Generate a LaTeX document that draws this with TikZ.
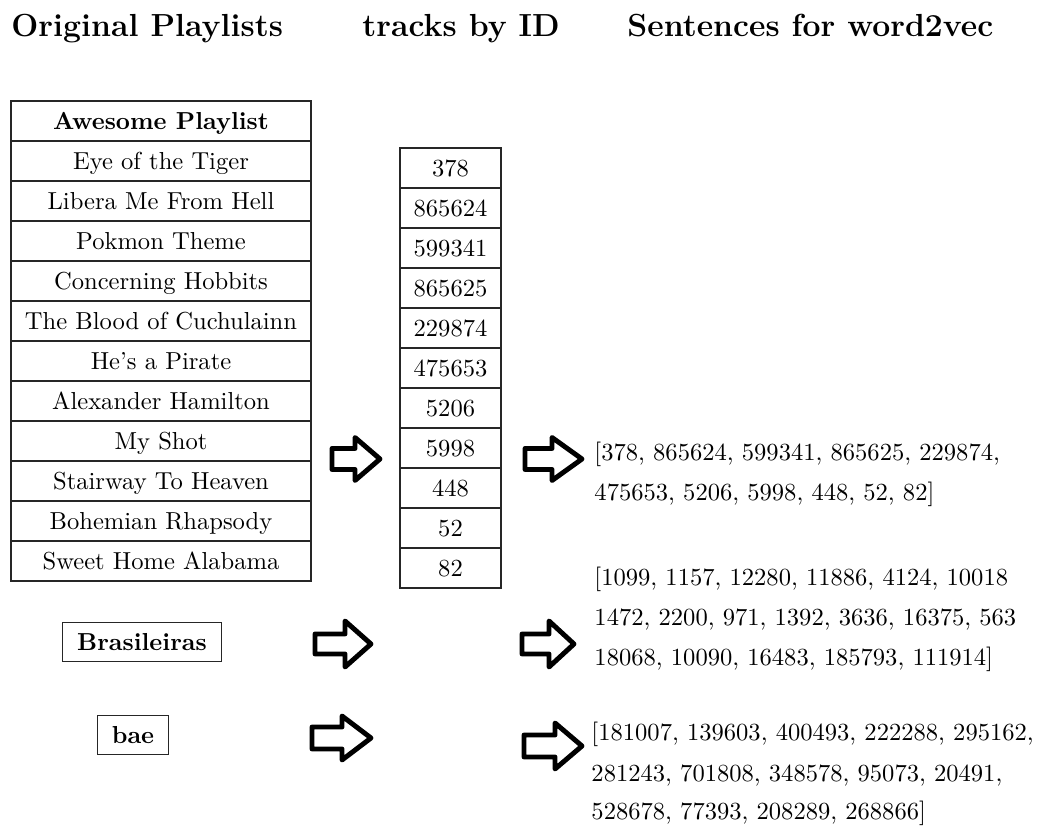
\documentclass[tikz,border=0pt]{standalone}
\newcommand\myblockarrow[6]{% x0 xh x1 yc shaft-half head-half (outer extents, px)
  \draw[barrow] ({#1+2},{#4-#5+2}) -- ({#2+2},{#4-#5+2}) -- ({#2+2},{#4-#6+2})
    -- ({#3-3},{#4}) -- ({#2+2},{#4+#6-2}) -- ({#2+2},{#4+#5-2})
    -- ({#1+2},{#4+#5-2}) -- cycle;}
\begin{document}
\begin{tikzpicture}[x=0.407pt,y=-0.407pt,
  cell/.style={draw=black!85, line width=0.45pt, inner sep=0pt,
    text height=9.4pt, text depth=2.4pt, align=center},
  pcell/.style={cell, minimum width=122.1pt, minimum height=16.28pt},
  icell/.style={cell, minimum width=41.1pt, minimum height=16.28pt},
  tagbox/.style={draw=black!85, line width=0.45pt, inner ysep=0pt, inner xsep=5.9pt,
    minimum height=16.2pt, text height=9.4pt, text depth=2.4pt, font=\bfseries},
  header/.style={anchor=base west, inner sep=0pt, font=\fontsize{13}{15}\selectfont\bfseries},
  sent/.style={anchor=base west, inner sep=0pt},
  barrow/.style={draw=black, line width=2pt, line join=round, fill=white}]
\useasboundingbox (0,0) rectangle (1037,826);

% headers
\node[header] (h1) at (11,37) {Original Playlists};
\node[header] (h2) at (362,37) {tracks by ID};
\node[header] (h3) at (627,37) {Sentences for word2vec};

% playlist table
\node[pcell] (p0)  at (161,121) {\textbf{Awesome Playlist}};
\node[pcell] (p1)  at (161,161) {Eye of the Tiger};
\node[pcell] (p2)  at (161,201) {Libera Me From Hell};
\node[pcell] (p3)  at (161,241) {Pokmon Theme};
\node[pcell] (p4)  at (161,281) {Concerning Hobbits};
\node[pcell] (p5)  at (161,321) {The Blood of Cuchulainn};
\node[pcell] (p6)  at (161,361) {He’s a Pirate};
\node[pcell] (p7)  at (161,401) {Alexander Hamilton};
\node[pcell] (p8)  at (161,441) {My Shot};
\node[pcell] (p9)  at (161,481) {Stairway To Heaven};
\node[pcell] (p10) at (161,521) {Bohemian Rhapsody};
\node[pcell] (p11) at (161,561) {Sweet Home Alabama};

% id column
\node[icell] (i1)  at (450.5,168) {378};
\node[icell] (i2)  at (450.5,208) {865624};
\node[icell] (i3)  at (450.5,248) {599341};
\node[icell] (i4)  at (450.5,288) {865625};
\node[icell] (i5)  at (450.5,328) {229874};
\node[icell] (i6)  at (450.5,368) {475653};
\node[icell] (i7)  at (450.5,408) {5206};
\node[icell] (i8)  at (450.5,448) {5998};
\node[icell] (i9)  at (450.5,488) {448};
\node[icell] (i10) at (450.5,528) {52};
\node[icell] (i11) at (450.5,568) {82};

% other playlists
\node[tagbox] (bra) at (142,642) {Brasileiras};
\node[tagbox] (bae) at (133,735) {bae};

% block arrows
\myblockarrow{330}{353}{383}{459}{12.5}{23.5}
\myblockarrow{523}{550}{585}{459}{12.5}{23.5}
\myblockarrow{313}{343}{374}{644}{12}{25}
\myblockarrow{520}{547}{577}{644}{12}{25}
\myblockarrow{310}{340}{374}{738}{13}{24}
\myblockarrow{522}{553}{585}{746}{13}{25}

% sentences
\node[sent] (s1a) at (594,461) {[378, 865624, 599341, 865625, 229874,};
\node[sent] (s1b) at (594,501) {475653, 5206, 5998, 448, 52, 82]};
\node[sent] (s2a) at (594,586) {[1099, 1157, 12280, 11886, 4124, 10018};
\node[sent] (s2b) at (594,626) {1472, 2200, 971, 1392, 3636, 16375, 563};
\node[sent] (s2c) at (594,666) {18068, 10090, 16483, 185793, 111914]};
\node[sent] (s3a) at (591,741) {[181007, 139603, 400493, 222288, 295162,};
\node[sent] (s3b) at (591,781) {281243, 701808, 348578, 95073, 20491,};
\node[sent] (s3c) at (591,819) {528678, 77393, 208289, 268866]};
\end{tikzpicture}
\end{document}
